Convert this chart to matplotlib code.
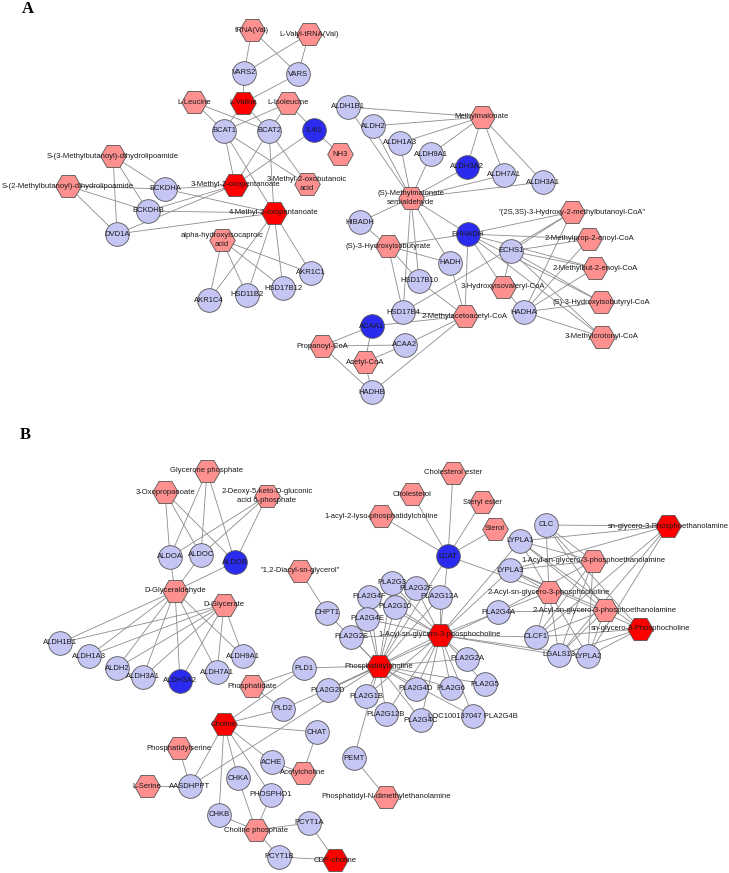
# 대사 네트워크 그림 (A, B 패널)

import matplotlib

matplotlib.use("Agg")
import matplotlib.pyplot as plt

plt.rcParams["font.family"] = ["Liberation Sans", "DejaVu Sans"]

# 두 줄 라벨
SEMI = "(S)-Methylmalonate\nsemialdehyde"
OXOBUT = "3-Methyl-2-oxobutanoic\nacid"
ALPHA = "alpha-hydroxyisocaproic\nacid"
DEOXY = "2-Deoxy-5-keto-D-gluconic\nacid 6-phosphate"
LOC = "LOC100137047 PLA2G4B"

# 패널 A 노드 (이름: 그림 위치)
a_genes = {
    "VARS2": (244, 73), "VARS": (298, 74), "BCAT1": (224, 131), "BCAT2": (269, 131),
    "BCKDHA": (165, 189), "BCKDHB": (148, 211), "DVD1A": (117, 234),
    "AKR1C1": (311, 273), "HSD17B12": (283, 288), "HSD11B2": (247, 295), "AKR1C4": (209, 300),
    "ALDH1B1": (348, 107), "ALDH2": (373, 126), "ALDH1A3": (400, 143), "ALDH9A1": (431, 154),
    "ALDH7A1": (504, 175), "ALDH3A1": (543, 182), "HIBADH": (360, 222), "ECHS1": (511, 251),
    "HADH": (450, 263), "HSD17B10": (419, 281), "HSD17B4": (403, 312), "HADHA": (524, 312),
    "ACAA2": (405, 345), "HADHB": (372, 392),
}
a_genes_blue = {
    "IL4I1": (314, 130), "ALDH3A2": (467, 167), "EHHADH": (468, 234), "ACAA1": (372, 326),
}
a_mets = {
    "tRNA(Val)": (252, 30), "L-Valyl-tRNA(Val)": (309, 34), "L-Leucine": (194, 102),
    "L-Isoleucine": (288, 103), "NH3": (340, 154),
    "S-(3-Methylbutanoyl)-dihydrolipoamide": (113, 156),
    "S-(2-Methylbutanoyl)-dihydrolipoamide": (68, 186),
    OXOBUT: (307, 184), ALPHA: (222, 240), "Methylmalonate": (482, 117), SEMI: (411, 198),
    "(S)-3-Hydroxyisobutyrate": (388, 246), "2-Methylacetoacetyl-CoA": (465, 316),
    "3-Hydroxyisovaleryl-CoA": (503, 287),
    '"(2S,3S)-3-Hydroxy-2-methylbutanoyl-CoA"': (572, 212),
    "2-Methylprop-2-enoyl-CoA": (589, 239), "2-Methylbut-2-enoyl-CoA": (595, 268),
    "(S)-3-Hydroxyisobutyryl-CoA": (601, 302), "3-Methylcrotonyl-CoA": (602, 337),
    "Acetyl-CoA": (365, 362), "Propanoyl-CoA": (322, 346),
}
a_mets_red = {
    "L-Valine": (243, 103), "3-Methyl-2-oxopentanoate": (235, 185),
    "4-Methyl-2-oxopentanoate": (274, 213),
}

# 패널 B 노드
b_genes = {
    "ALDOA": (170, 557), "ALDOC": (201, 555), "ALDH1B1": (60, 643), "ALDH1A3": (89, 656),
    "ALDH2": (117, 668), "ALDH3A1": (143, 677), "ALDH7A1": (217, 672), "ALDH9A1": (243, 656),
    "CHPT1": (327, 613), "PLD1": (304, 668), "PLD2": (283, 709), "PLA2G2D": (328, 690),
    "CHAT": (317, 732), "ACHE": (272, 762), "AASDHPPT": (190, 786), "CHKA": (238, 778),
    "PHOSPHO1": (271, 795), "CHKB": (219, 815), "PCYT1A": (309, 823), "PCYT1B": (279, 857),
    "CLC": (546, 525), "LYPLA1": (520, 541), "LYPLA3": (510, 570), "PLA2G4A": (498, 612),
    "CLCF1": (536, 637), "LGALS13": (559, 655), "LYPLA2": (588, 656),
    "PLA2G3": (392, 583), "PLA2G2F": (416, 588), "PLA2G12A": (440, 597), "PLA2G4F": (369, 597),
    "PLA2G10": (395, 607), "PLA2G4E": (367, 619), "PLA2G2E": (351, 637), "PLA2G2A": (467, 659),
    "PLA2G5": (485, 684), "PLA2G6": (451, 688), "PLA2G4D": (416, 689), "PLA2G1B": (366, 696),
    "PLA2G12B": (386, 714), "PLA2G4C": (421, 720), LOC: (473, 716), "PEMT": (354, 758),
}
b_genes_blue = {"ALDOB": (235, 562), "ALDH3A2": (180, 681), "LCAT": (448, 556)}
b_mets = {
    "Glycerone phosphate": (207, 471), "3-Oxopropanoate": (165, 492), DEOXY: (267, 496),
    "D-Glyceraldehyde": (175, 591), "D-Glycerate": (224, 605),
    '"1,2-Diacyl-sn-glycerol"': (300, 571), "Phosphatidate": (252, 686),
    "Acetylcholine": (303, 773), "Phosphatidylserine": (179, 748), "L-Serine": (147, 786),
    "Choline phosphate": (256, 830), "Cholesterol ester": (453, 473), "Cholesterol": (412, 494),
    "Steryl ester": (482, 502), "Sterol": (495, 529),
    "1-acyl-2-lyso-phosphatidylcholine": (381, 516),
    "1-Acyl-sn-glycero-3-phosphoethanolamine": (593, 561),
    "2-Acyl-sn-glycero-3-phosphocholine": (549, 592),
    "2-Acyl-sn-glycero-3-phosphoethanolamine": (605, 610),
    "Phosphatidyl-N-dimethylethanolamine": (386, 797),
}
b_mets_red = {
    "Choline": (224, 724), "CDP-choline": (335, 860),
    "sn-glycero-3-Phosphoethanolamine": (668, 526), "sn-glycero-3-Phosphocholine": (640, 629),
    "1-Acyl-sn-glycero-3-phosphocholine": (440, 635), "Phosphatidylcholine": (379, 666),
}

# 연결 (허브, 이웃 목록)
ald_a = ["ALDH1B1", "ALDH2", "ALDH1A3", "ALDH9A1", "ALDH3A2", "ALDH7A1", "ALDH3A1"]
coa_genes = ["EHHADH", "ECHS1", "HADHA"]
a_links = [
    ("tRNA(Val)", ["VARS2", "VARS"]),
    ("L-Valyl-tRNA(Val)", ["VARS2", "VARS"]),
    ("L-Valine", ["VARS2", "VARS", "BCAT1", "BCAT2"]),
    ("L-Leucine", ["BCAT1", "BCAT2"]),
    ("L-Isoleucine", ["BCAT1", "BCAT2", "IL4I1"]),
    ("IL4I1", ["NH3", "3-Methyl-2-oxopentanoate"]),
    ("3-Methyl-2-oxopentanoate", ["BCAT1", "BCAT2", "BCKDHA", "BCKDHB", "DVD1A"]),
    ("4-Methyl-2-oxopentanoate", ["BCAT1", "BCAT2", "BCKDHA", "BCKDHB", "DVD1A",
                                  "AKR1C1", "HSD17B12", "HSD11B2", "AKR1C4"]),
    (OXOBUT, ["BCAT1", "BCAT2"]),
    ("S-(3-Methylbutanoyl)-dihydrolipoamide", ["BCKDHA", "BCKDHB", "DVD1A"]),
    ("S-(2-Methylbutanoyl)-dihydrolipoamide", ["BCKDHA", "BCKDHB", "DVD1A"]),
    (ALPHA, ["AKR1C1", "HSD17B12", "HSD11B2", "AKR1C4"]),
    ("Methylmalonate", ald_a),
    (SEMI, ald_a + ["HIBADH", "EHHADH", "HADH", "HSD17B10", "HSD17B4"]),
    ("(S)-3-Hydroxyisobutyrate", ["HIBADH", "EHHADH", "HADH", "HSD17B10", "HSD17B4"]),
    ("2-Methylacetoacetyl-CoA", ["EHHADH", "HADH", "HSD17B10", "HSD17B4", "ACAA1", "ACAA2", "HADHB"]),
    ("Propanoyl-CoA", ["ACAA1", "ACAA2", "HADHB"]),
    ("Acetyl-CoA", ["ACAA1", "ACAA2", "HADHB"]),
    ("3-Hydroxyisovaleryl-CoA", coa_genes),
    ('"(2S,3S)-3-Hydroxy-2-methylbutanoyl-CoA"', coa_genes + ["HSD17B4"]),
    ("2-Methylprop-2-enoyl-CoA", coa_genes),
    ("2-Methylbut-2-enoyl-CoA", coa_genes),
    ("(S)-3-Hydroxyisobutyryl-CoA", coa_genes),
    ("3-Methylcrotonyl-CoA", coa_genes),
]

ald_b = ["ALDH1B1", "ALDH1A3", "ALDH2", "ALDH3A1", "ALDH3A2", "ALDH7A1", "ALDH9A1"]
aldo = ["ALDOA", "ALDOC", "ALDOB"]
pla2 = ["PLA2G3", "PLA2G2F", "PLA2G12A", "PLA2G4F", "PLA2G10", "PLA2G4E", "PLA2G2E", "PLA2G2A",
        "PLA2G5", "PLA2G6", "PLA2G4D", "PLA2G1B", "PLA2G12B", "PLA2G4C", LOC, "PLA2G2D", "PLA2G4A"]
lyso = ["CLC", "LYPLA1", "LYPLA3", "CLCF1", "LGALS13", "LYPLA2"]
b_links = [
    ("Glycerone phosphate", aldo),
    ("3-Oxopropanoate", aldo),
    (DEOXY, aldo),
    ("D-Glyceraldehyde", aldo + ald_b),
    ("D-Glycerate", ald_b),
    ('"1,2-Diacyl-sn-glycerol"', ["CHPT1"]),
    ("Phosphatidate", ["PLD1", "PLD2"]),
    ("Choline", ["PLD1", "PLD2", "CHAT", "ACHE", "CHKA", "CHKB", "PHOSPHO1", "AASDHPPT"]),
    ("Acetylcholine", ["CHAT", "ACHE"]),
    ("AASDHPPT", ["Phosphatidylserine", "L-Serine", "Phosphatidylcholine"]),
    ("Choline phosphate", ["CHKA", "CHKB", "PHOSPHO1", "PCYT1A", "PCYT1B"]),
    ("CDP-choline", ["PCYT1A", "PCYT1B"]),
    ("PEMT", ["Phosphatidylcholine", "Phosphatidyl-N-dimethylethanolamine"]),
    ("Phosphatidylcholine", pla2 + ["CHPT1", "PLD1", "PLD2", "LCAT"]),
    ("1-Acyl-sn-glycero-3-phosphocholine", pla2 + ["LCAT", "LYPLA1", "LYPLA3", "CLCF1", "LGALS13", "LYPLA2"]),
    ("LCAT", ["Cholesterol ester", "Cholesterol", "Steryl ester", "Sterol",
              "1-acyl-2-lyso-phosphatidylcholine", "2-Acyl-sn-glycero-3-phosphocholine"]),
    ("sn-glycero-3-Phosphoethanolamine", lyso),
    ("1-Acyl-sn-glycero-3-phosphoethanolamine", lyso + ["PLA2G4A"]),
    ("2-Acyl-sn-glycero-3-phosphocholine", lyso + ["PLA2G4A"]),
    ("2-Acyl-sn-glycero-3-phosphoethanolamine", lyso + ["PLA2G4A"]),
    ("sn-glycero-3-Phosphocholine", lyso),
]

panel_letters = [("A", 28, 9), ("B", 25, 435)]

# 색상
GENE_COLOR = "#c6c6f4"
GENE_BLUE = "#2b2bf0"
MET_COLOR = "#ff9090"
MET_RED = "#fe0000"


def draw_nodes(ax, nodes, marker, size, color):
    xs = [p[0] for p in nodes.values()]
    ys = [p[1] for p in nodes.values()]
    ax.scatter(xs, ys, s=size, marker=marker, c=color, edgecolors="#555555", linewidths=0.6, zorder=3)


def draw_panel(ax, genes, genes_blue, mets, mets_red, links):
    pos = {**genes, **genes_blue, **mets, **mets_red}

    # 연결선
    for hub, others in links:
        for other in others:
            ax.plot([pos[hub][0], pos[other][0]], [pos[hub][1], pos[other][1]],
                    color="#8c8c8c", lw=0.6, zorder=1)

    draw_nodes(ax, genes, "o", 290, GENE_COLOR)
    draw_nodes(ax, genes_blue, "o", 290, GENE_BLUE)
    draw_nodes(ax, mets, "H", 340, MET_COLOR)
    draw_nodes(ax, mets_red, "H", 340, MET_RED)

    # 라벨
    for name, (x, y) in pos.items():
        ax.text(x, y, name, ha="center", va="center", fontsize=5.5, color="#1a1a1a",
                linespacing=1.35, zorder=4)


fig = plt.figure(figsize=(7.29, 8.73), dpi=100)
ax = fig.add_axes([0, 0, 1, 1])
ax.set_xlim(0, 729)
ax.set_ylim(873, 0)
ax.axis("off")

draw_panel(ax, a_genes, a_genes_blue, a_mets, a_mets_red, a_links)
draw_panel(ax, b_genes, b_genes_blue, b_mets, b_mets_red, b_links)

for letter, x, y in panel_letters:
    ax.text(x, y, letter, ha="center", va="center", fontsize=12, fontweight="bold",
            family="Liberation Serif", color="black")

fig.savefig("out.png", dpi=100)
